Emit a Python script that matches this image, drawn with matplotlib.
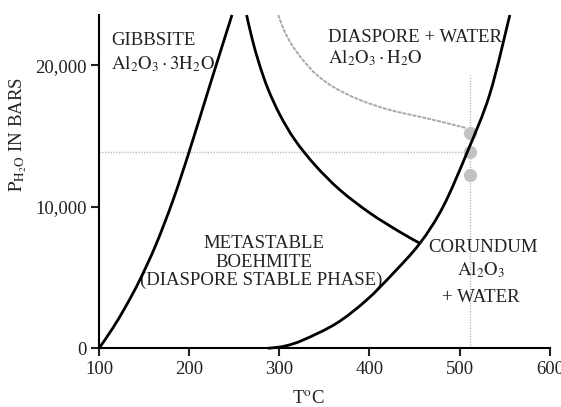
import matplotlib
matplotlib.use("Agg")
import numpy as np
import matplotlib.pyplot as plt
from matplotlib.path import Path
from matplotlib.patches import PathPatch

plt.rcParams["font.family"] = ["Liberation Serif", "DejaVu Serif"]
plt.rcParams["mathtext.fontset"] = "stix"

# Phase boundaries in the Al2O3-H2O system (T in deg C, P in bars)
gibbsite_T = [100, 115, 130, 145, 163, 182, 200, 224, 247.5]
gibbsite_P = [0, 1400, 3000, 4800, 7300, 10450, 13890, 18800, 23550]

boehmite_T = [263.7, 269.6, 277.4, 287.4, 300.7, 317.3, 339.5, 367.2, 400.4, 433.7, 455.9]
boehmite_P = [23550, 21930, 20160, 18330, 16490, 14720, 12950, 11190, 9560, 8220, 7420]

corundum_T = [287.4, 306.2, 326.5, 363.5, 396.8, 426.3, 455.9, 481.7, 508.5, 533.5, 555.7]
corundum_P = [0, 160, 590, 1770, 3410, 5300, 7420, 10010, 13870, 17970, 23550]

# Metastable extension (dashed grey)
meta_T = [298.8, 305.1, 314.0, 326.2, 341.7, 361.6, 389.3, 422.6, 467.0, 506.9]
meta_P = [23550, 22490, 21430, 20370, 19310, 18400, 17550, 16840, 16200, 15570]

# Experimental points
exp_T = [511, 511, 511]
exp_P = [15190, 13890, 12250]
ref_T = 511
ref_P = 13890
ref_top = 19310

x_ticks = [100, 200, 300, 400, 500, 600]
y_ticks = [0, 10000, 20000]
y_tick_labels = ["0", "10,000", "20,000"]


def smooth_curve(ax, xs, ys, **kw):
    """Draw a smooth curve through the given points (Catmull-Rom as cubic Beziers)."""
    pts = np.column_stack([xs, ys]).astype(float)
    n = len(pts)
    verts = [pts[0]]
    codes = [Path.MOVETO]
    for i in range(n - 1):
        pm = pts[i - 1] if i > 0 else pts[i]
        pp = pts[i + 2] if i + 2 < n else pts[i + 1]
        c1 = pts[i] + (pts[i + 1] - pm) / 6.0
        c2 = pts[i + 1] - (pp - pts[i]) / 6.0
        verts += [c1, c2, pts[i + 1]]
        codes += [Path.CURVE4] * 3
    patch = PathPatch(Path(verts, codes), fill=False, transform=ax.transData, **kw)
    ax.add_patch(patch)
    return patch


fig = plt.figure(figsize=(5.61, 4.07), dpi=100)
ax = fig.add_axes([0.1765, 0.1442, 0.8035, 0.819])
ax.set_xlim(100, 600)
ax.set_ylim(0, 23550)

grey = "#bdbdbd"
ax.plot([100, ref_T], [ref_P, ref_P], color=grey, lw=1.0, ls=(0, (1, 1)), zorder=1)
ax.plot([ref_T, ref_T], [0, ref_top], color=grey, lw=1.0, ls=(0, (1, 1)), zorder=1)
smooth_curve(ax, meta_T, meta_P, edgecolor="#a8a8a8", lw=1.4, linestyle=(0, (2, 0.6)), zorder=2)
ax.plot(exp_T, exp_P, ls="none", marker="o", ms=9.5, color="#c2c2c2", mec="none", zorder=3)

for T, P in [(gibbsite_T, gibbsite_P), (boehmite_T, boehmite_P), (corundum_T, corundum_P)]:
    smooth_curve(ax, T, P, edgecolor="black", lw=2.0, capstyle="butt", zorder=4, clip_on=False)

for s in ["top", "right"]:
    ax.spines[s].set_visible(False)
for s in ["left", "bottom"]:
    ax.spines[s].set_linewidth(1.5)

ax.set_xticks(x_ticks)
ax.set_yticks(y_ticks)
ax.set_yticklabels(y_tick_labels)
ax.tick_params(direction="out", length=6, width=1.5, labelsize=13.5, pad=3, colors="#222222")

fs = 13.5
tc = "#222222"
ax.text(113.3, 21430, "GIBBSITE", fontsize=fs, color=tc, va="baseline")
ax.text(113.3, 19700, r"$\mathrm{Al_2O_3 \cdot 3H_2O}$", fontsize=fs, color=tc, va="baseline")
ax.text(353.9, 21670, "DIASPORE + WATER", fontsize=fs, color=tc, va="baseline")
ax.text(353.9, 20140, r"$\mathrm{Al_2O_3 \cdot H_2O}$", fontsize=fs, color=tc, va="baseline")

ax.text(283, 7070, "METASTABLE", fontsize=fs, color=tc, ha="center", va="baseline")
ax.text(283, 5770, "BOEHMITE", fontsize=fs, color=tc, ha="center", va="baseline")
ax.text(280, 4470, "(DIASPORE STABLE PHASE)", fontsize=fs, color=tc, ha="center", va="baseline")

ax.text(526, 6830, "CORUNDUM", fontsize=fs, color=tc, ha="center", va="baseline")
ax.text(524, 5180, r"$\mathrm{Al_2O_3}$", fontsize=fs, color=tc, ha="center", va="baseline")
ax.text(524, 3290, "+ WATER", fontsize=fs, color=tc, ha="center", va="baseline")

fig.text(308 / 561, 1 - 399 / 407, r"T$^{\rm o}$C", fontsize=fs, color=tc, ha="center", va="center")
fig.text(18 / 561, 1 - 134 / 407, r"$\mathrm{P_{H_2O}}$ IN BARS", fontsize=fs, color=tc,
         ha="center", va="center", rotation=90)

fig.savefig("out.png", dpi=100)
